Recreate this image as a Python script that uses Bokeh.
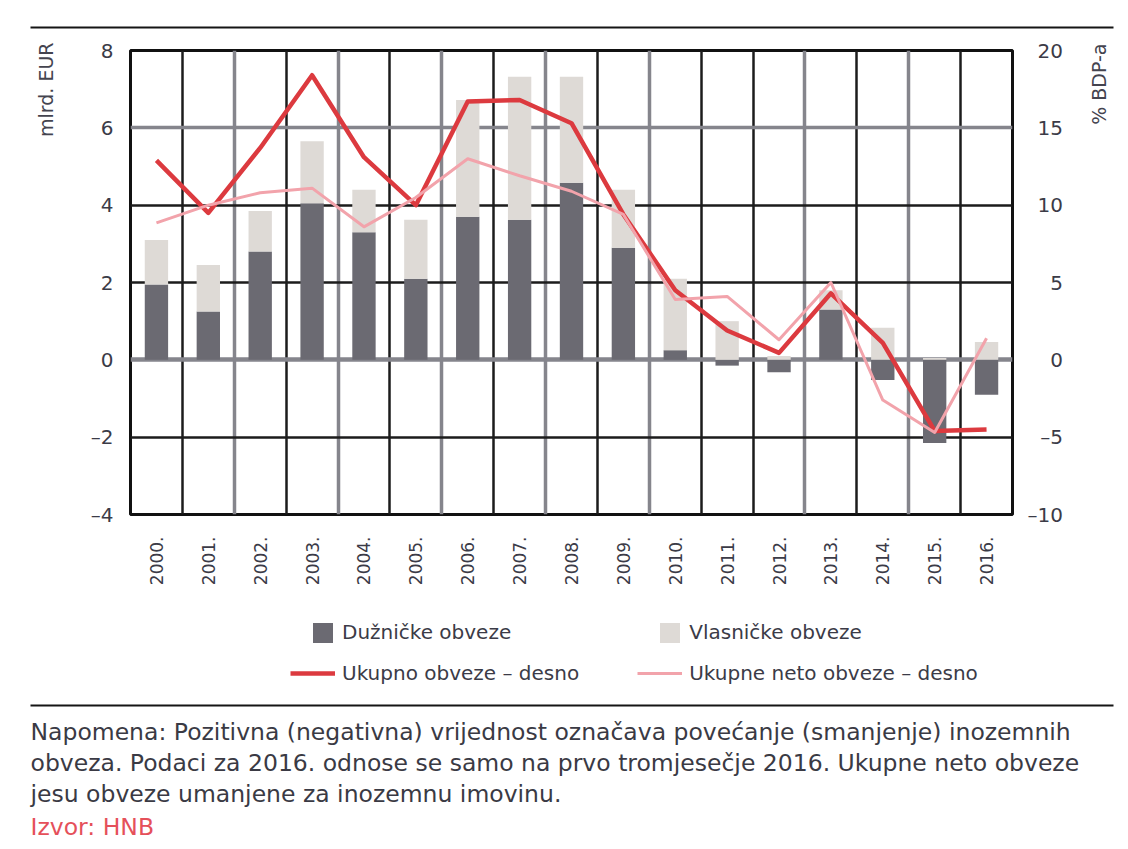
import numpy as np
from bokeh.plotting import figure
from bokeh.models import (Range1d, LinearAxis, FixedTicker, Grid, Legend,
                          LegendItem, ColumnDataSource, Plot)
from bokeh.layouts import column, row
from bokeh.embed import file_html
from bokeh.resources import INLINE
from bokeh.core.properties import value

# ---------------- data ----------------
years = ["2000.", "2001.", "2002.", "2003.", "2004.", "2005.", "2006.", "2007.",
         "2008.", "2009.", "2010.", "2011.", "2012.", "2013.", "2014.", "2015.", "2016."]
# mlrd. EUR (left axis)
duznicke = [1.95, 1.25, 2.80, 4.05, 3.30, 2.10, 3.70, 3.62, 4.58, 2.90,
            0.25, -0.15, -0.32, 1.30, -0.52, -2.15, -0.90]
vlasnicke = [1.15, 1.20, 1.05, 1.60, 1.10, 1.52, 3.02, 3.70, 2.74, 1.50,
             1.85, 1.00, 0.10, 0.50, 0.83, 0.05, 0.46]
# % BDP-a (right axis)
ukupno = [12.9, 9.5, 13.7, 18.4, 13.1, 10.0, 16.7, 16.8, 15.3, 9.4,
          4.5, 1.9, 0.45, 4.3, 1.1, -4.6, -4.5]
neto = [8.85, 10.0, 10.8, 11.1, 8.6, 10.5, 13.0, 11.9, 10.9, 9.4,
        3.9, 4.1, 1.3, 5.0, -2.6, -4.7, 1.4]

left_ticks = [-4, -2, 0, 2, 4, 6, 8]
right_ticks = [-10, -5, 0, 5, 10, 15, 20]
left_title = "mlrd. EUR"
right_title = "% BDP-a"

legend_labels = ["Dužničke obveze", "Vlasničke obveze",
                 "Ukupno obveze – desno", "Ukupne neto obveze – desno"]
note_lines = [
    "Napomena: Pozitivna (negativna) vrijednost označava povećanje (smanjenje) inozemnih",
    "obveza. Podaci za 2016. odnose se samo na prvo tromjesečje 2016. Ukupne neto obveze",
    "jesu obveze umanjene za inozemnu imovinu.",
]
source_text = "Izvor: HNB"

# ---------------- styles ----------------
FONT = "DejaVu Sans"
TXT = "#3b3b47"
TITLE_C = "#44444f"
DARK = "#6b6a72"
LIGHT = "#dedad6"
RED = "#dc3a3f"
PINK = "#f2a3ab"
GRID_BLACK = "#1c1c1c"
GRID_GRAY = "#85858c"
RULE = "#151515"
FA = {"frame_align": False} if "frame_align" in Plot.properties() else {}


def blank(w, h):
    f = figure(width=w, height=h, x_range=Range1d(0, w), y_range=Range1d(h, 0),
               toolbar_location=None, output_backend="svg", min_border=0,
               x_axis_location=None, y_axis_location=None,
               outline_line_color=None, **FA)
    f.grid.visible = False
    return f


# ---------------- derived positions ----------------
n = len(years)
xc = np.arange(n) + 0.5
d = np.array(duznicke)
v = np.array(vlasnicke)
light_bottom = np.where(d > 0, d, 0.0)
light_top = light_bottom + v
src = ColumnDataSource(dict(x=xc, d=d, lb=light_bottom, lt=light_top,
                            uk=ukupno, ne=neto))

# ---------------- top strip ----------------
top = blank(1126, 34)
top.segment(x0=[30], y0=[27], x1=[1113], y1=[27], line_width=2, line_color=RULE)

# ---------------- main chart ----------------
p = figure(width=1002, height=564, x_range=Range1d(0, n), y_range=Range1d(-4, 8),
           toolbar_location=None, output_backend="svg",
           min_border_left=52, min_border_right=68,
           min_border_top=16, min_border_bottom=84,
           outline_line_color="#111111", outline_line_width=3)
p.extra_y_ranges = {"right": Range1d(-10, 20)}
p.xgrid.visible = False
p.ygrid.visible = False

for ticks, col, wd, dim in [
    ([1, 3, 5, 7, 9, 11, 12, 14, 16], GRID_BLACK, 2.5, 0),
    ([2, 4, 6, 8, 10, 13, 15], GRID_GRAY, 3.5, 0),
    ([-2, 2, 4], GRID_BLACK, 2.5, 1),
    ([6], GRID_GRAY, 3.5, 1),
    ([0], GRID_GRAY, 4.5, 1),
]:
    p.add_layout(Grid(dimension=dim, ticker=FixedTicker(ticks=ticks),
                      grid_line_color=col, grid_line_width=wd))

p.vbar(x="x", bottom=0, top="d", width=0.45, source=src,
       fill_color=DARK, line_color=None)
p.vbar(x="x", bottom="lb", top="lt", width=0.45, source=src,
       fill_color=LIGHT, line_color=None)
p.line(x="x", y="uk", source=src, y_range_name="right",
       line_color=RED, line_width=4.5, line_join="round")
p.line(x="x", y="ne", source=src, y_range_name="right",
       line_color=PINK, line_width=3, line_join="round")

xa = p.xaxis[0]
xa.ticker = FixedTicker(ticks=list(xc))
xa.major_label_overrides = {float(x): y for x, y in zip(xc, years)}
xa.major_label_orientation = np.pi / 2
xa.major_label_standoff = 22

ya = p.yaxis[0]
ya.ticker = FixedTicker(ticks=left_ticks)
ya.major_label_overrides = {t: (("–" + str(-t)) if t < 0 else str(t)) for t in left_ticks}
ya.major_label_standoff = 17


def rlabel(t):
    s = ("–" + str(-t)) if t < 0 else str(t)
    if t < 0:
        return s if len(s) == 3 else "\u2007" + s
    return {2: "\u2002", 1: "\u2002\u2007"}[len(s)] + s


ra = LinearAxis(y_range_name="right", ticker=FixedTicker(ticks=right_ticks))
ra.major_label_overrides = {t: rlabel(t) for t in right_ticks}
ra.major_label_standoff = 15
p.add_layout(ra, "right")

for ax in (xa, ya, ra):
    ax.axis_line_color = None
    ax.major_tick_line_color = None
    ax.minor_tick_line_color = None
    ax.major_tick_out = 0
    ax.major_tick_in = 0
    ax.major_label_text_font = FONT
    ax.major_label_text_color = TXT
xa.major_label_text_font_size = "17px"
ya.major_label_text_font_size = "20px"
ra.major_label_text_font_size = "20px"

# ---------------- axis titles (side strips) ----------------
lf = blank(78, 564)
lf.text(x=[45], y=[8], text=[left_title], angle=np.pi / 2,
        text_align="right", text_baseline="middle",
        text_font=value(FONT), text_font_size="19px", text_color=TITLE_C)
rf = blank(46, 564)
rf.text(x=[18], y=[9], text=[right_title], angle=np.pi / 2,
        text_align="right", text_baseline="middle",
        text_font=value(FONT), text_font_size="19px", text_color=TITLE_C)

# ---------------- legend + footnote ----------------
bot = blank(1126, 249)
# legend proxies: same series, mapped onto a range that lies outside the view
bot.extra_x_ranges = {"proxy": Range1d(-1000, -999)}
g_dark = bot.vbar(x="x", bottom=0, top="d", width=0.45, source=src,
                  x_range_name="proxy", fill_color=DARK, line_color=None)
g_light = bot.vbar(x="x", bottom="lb", top="lt", width=0.45, source=src,
                   x_range_name="proxy", fill_color=LIGHT, line_color=None)
g_red = bot.line(x="x", y="uk", source=src, x_range_name="proxy",
                 line_color=RED, line_width=4.5)
g_pink = bot.line(x="x", y="ne", source=src, x_range_name="proxy",
                  line_color=PINK, line_width=3)

common = dict(orientation="horizontal", padding=0, margin=0,
              border_line_color=None, background_fill_alpha=0,
              label_text_font=FONT, label_text_font_size="20px",
              label_text_color=TXT, label_standoff=7)
leg1 = Legend(items=[LegendItem(label=legend_labels[0], renderers=[g_dark]),
                     LegendItem(label=legend_labels[1], renderers=[g_light])],
              location=(310, 202.5), glyph_width=25, glyph_height=25,
              label_height=25, spacing=146, **common)
leg2 = Legend(items=[LegendItem(label=legend_labels[2], renderers=[g_red]),
                     LegendItem(label=legend_labels[3], renderers=[g_pink])],
              location=(290, 162), glyph_width=45, glyph_height=20,
              label_height=20, spacing=58, **common)
bot.add_layout(leg1, "center")
bot.add_layout(leg2, "center")

bot.segment(x0=[30], y0=[107], x1=[1113], y1=[107], line_width=2, line_color=RULE)
bot.text(x=[30] * len(note_lines), y=[133, 164, 195], text=note_lines,
         text_baseline="middle", text_align="left",
         text_font=value(FONT), text_font_size="23.5px", text_color="#3a3a44")
bot.text(x=[30], y=[228], text=[source_text],
         text_baseline="middle", text_align="left",
         text_font=value(FONT), text_font_size="23.5px", text_color="#e5505a")

layout = column(top, row(lf, p, rf, spacing=0), bot, spacing=0)
open("out.html", "w").write(file_html(layout, INLINE))
